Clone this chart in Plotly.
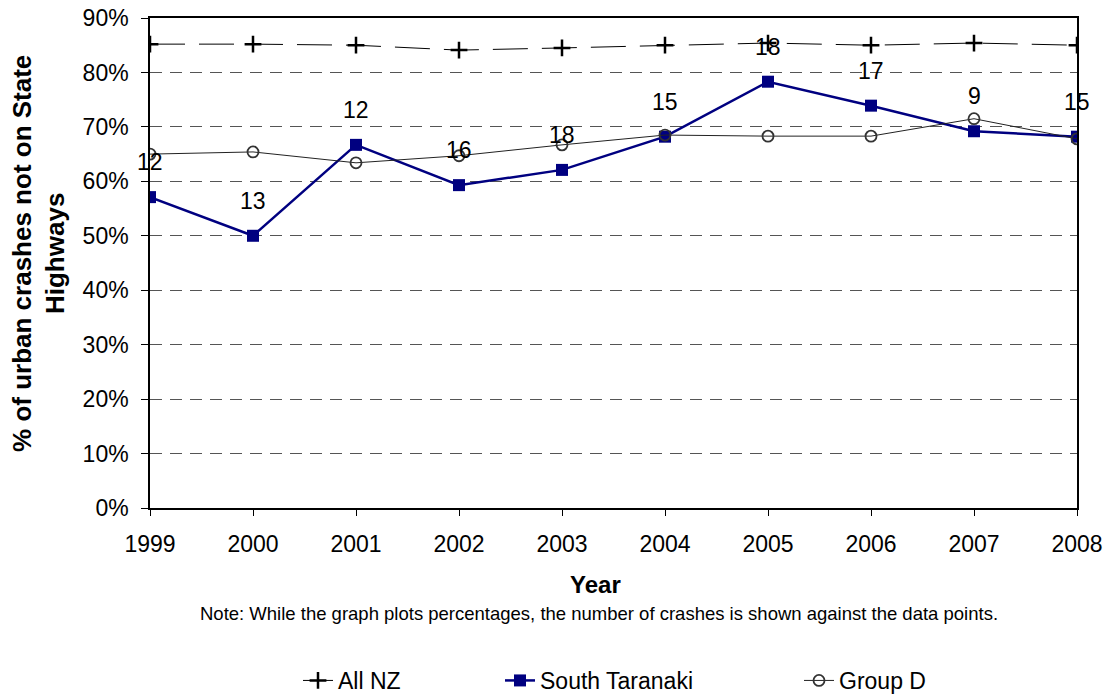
import plotly.graph_objects as go

years = [1999, 2000, 2001, 2002, 2003, 2004, 2005, 2006, 2007, 2008]
all_nz = [0.852, 0.852, 0.850, 0.841, 0.845, 0.850, 0.854, 0.850, 0.854, 0.850]
south_taranaki = [0.571, 0.500, 0.667, 0.593, 0.621, 0.682, 0.783, 0.739, 0.692, 0.682]
group_d = [0.650, 0.654, 0.634, 0.647, 0.667, 0.685, 0.683, 0.683, 0.715, 0.678]
crash_counts = [12, 13, 12, 16, 18, 15, 18, 17, 9, 15]
y_ticks = [0, 0.1, 0.2, 0.3, 0.4, 0.5, 0.6, 0.7, 0.8, 0.9]

FONT = "Liberation Sans, Arial, sans-serif"

fig = go.Figure()
fig.add_trace(go.Scatter(
    x=years, y=all_nz, name="All NZ", mode="lines+markers", legend="legend",
    line=dict(color="black", width=1, dash="35px,14px"),
    marker=dict(symbol="cross-thin", size=12, line=dict(color="black", width=2.5), color="black"),
))
fig.add_trace(go.Scatter(
    x=years, y=south_taranaki, name="South Taranaki", mode="lines+markers", legend="legend2",
    line=dict(color="#000080", width=2.5),
    marker=dict(symbol="square", size=12, color="#000080"),
))
fig.add_trace(go.Scatter(
    x=years, y=group_d, name="Group D", mode="lines+markers", legend="legend3",
    line=dict(color="#222222", width=1),
    marker=dict(symbol="circle-open", size=11, color="#333333", line=dict(width=1.8)),
))

for x, y, n in zip(years, south_taranaki, crash_counts):
    fig.add_annotation(x=x, y=y, text=str(n), showarrow=False, yshift=35,
                       font=dict(family=FONT, size=23, color="black"))

fig.add_annotation(
    xref="paper", yref="paper", x=0.484, y=-0.216, yanchor="middle",
    text="Note: While the graph plots percentages, the number of crashes is shown against the data points.",
    showarrow=False, font=dict(family=FONT, size=18.5, color="black"),
)
fig.add_annotation(
    xref="paper", yref="paper", x=0.481, y=-0.157, yanchor="middle", text="<b>Year</b>",
    showarrow=False, font=dict(family=FONT, size=24, color="black"),
)
fig.add_annotation(
    xref="paper", yref="paper", x=-0.12, xanchor="center", y=0.52, yanchor="middle",
    text="<b>% of urban crashes not on State<br>Highways</b>", textangle=-90,
    showarrow=False, font=dict(family=FONT, size=26, color="black"),
)

leg_common = dict(orientation="h", yanchor="middle", y=-0.352, xanchor="left",
                  font=dict(family=FONT, size=23, color="black"), bgcolor="rgba(0,0,0,0)")

fig.update_layout(
    width=1107, height=695,
    margin=dict(l=150, r=30, t=18, b=187, autoexpand=False),
    paper_bgcolor="white", plot_bgcolor="white",
    font=dict(family=FONT, size=23, color="black"),
    showlegend=True,
    legend=dict(x=(298 - 150) / 927, **leg_common),
    legend2=dict(x=(500 - 150) / 927, **leg_common),
    legend3=dict(x=(799 - 150) / 927, **leg_common),
    xaxis=dict(
        range=[1999, 2008], tickmode="array", tickvals=years, ticktext=[str(y) for y in years],
        showgrid=False, zeroline=False, showline=True, linecolor="black", linewidth=1.5,
        mirror=True, ticks="outside", ticklen=6, tickcolor="black", automargin=False,
        ticklabelstandoff=9, tickfont=dict(size=23),
    ),
    yaxis=dict(
        range=[0, 0.9], tickmode="array", tickvals=y_ticks,
        ticktext=[f"{int(round(v*100))}%" for v in y_ticks],
        showgrid=True, gridcolor="#555555", griddash="12px,8px", gridwidth=1,
        zeroline=False, showline=True, linecolor="black", linewidth=1.5, mirror=True,
        ticks="outside", ticklen=7, tickcolor="black", automargin=False,
        ticklabelstandoff=8, tickfont=dict(size=23),
    ),
)

fig.write_html(
    "out.html",
    config={"displayModeBar": False},
    post_script="document.body.style.margin='0';document.body.style.padding='0';document.body.style.overflow='hidden';",
)
